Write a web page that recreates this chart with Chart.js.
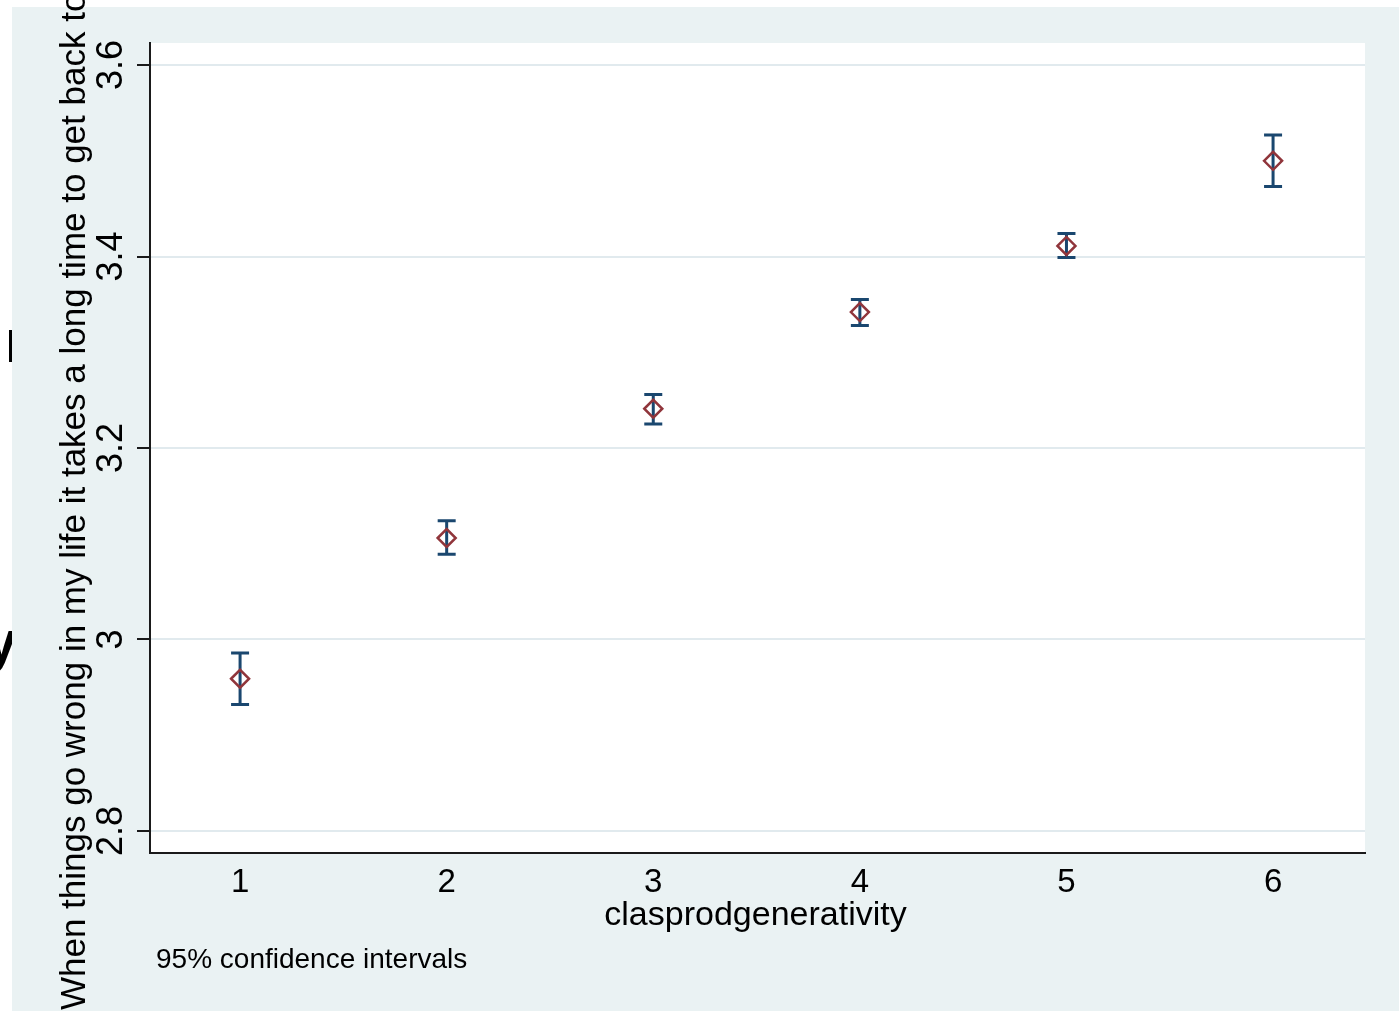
<!DOCTYPE html>
<html>
<head>
<meta charset="utf-8">
<title>clasprodgenerativity</title>
<script src="https://cdn.jsdelivr.net/npm/chart.js@4.4.1/dist/chart.umd.min.js"></script>
<style>
  html, body { margin: 0; padding: 0; background: #ffffff; }
  canvas { display: block; }
</style>
</head>
<body>
<canvas id="chart" width="1399" height="1011"></canvas>
<script>
// Group means with 95% confidence intervals
const categories = [1, 2, 3, 4, 5, 6];
const means = [2.959, 3.106, 3.241, 3.342, 3.411, 3.500];
const lower = [2.932, 3.089, 3.225, 3.328, 3.399, 3.473];
const upper = [2.986, 3.124, 3.256, 3.355, 3.424, 3.527];
const yTickValues = [2.8, 3.0, 3.2, 3.4, 3.6];
const yTickLabels = ['2.8', '3', '3.2', '3.4', '3.6'];
const xTickLabels = ['1', '2', '3', '4', '5', '6'];
const xTitle = 'clasprodgenerativity';
const yTitle = 'When things go wrong in my life it takes a long time to get back to normal';
const note = '95% confidence intervals';

const FONT = '"Liberation Sans", Arial, Helvetica, sans-serif';
const PANEL = '#EAF2F3';
const NAVY = '#1A476F';
const CRANBERRY = '#90353B';

const points = categories.map((c, i) => ({ x: c, y: means[i] }));

// Page frame, outer panel and white plot region
const backdrop = {
  id: 'backdrop',
  beforeDraw(chart) {
    const { ctx, chartArea: a, width, height } = chart;
    ctx.save();
    ctx.fillStyle = '#ffffff';
    ctx.fillRect(0, 0, width, height);
    // stray glyphs of a neighbouring caption at the far left
    ctx.fillStyle = '#000000';
    ctx.font = 'bold 58px ' + FONT;
    ctx.textBaseline = 'alphabetic';
    ctx.textAlign = 'left';
    ctx.fillText('y', -15, 661);
    ctx.fillRect(9, 330, 3, 32);
    ctx.fillStyle = PANEL;
    ctx.fillRect(12, 7, width - 12, height - 7);
    ctx.fillStyle = '#ffffff';
    ctx.fillRect(a.left, a.top, a.right - a.left, a.bottom - a.top);
    ctx.restore();
  }
};

// Confidence interval whiskers with caps
const whiskers = {
  id: 'whiskers',
  beforeDatasetsDraw(chart) {
    const { ctx, scales: { x, y } } = chart;
    ctx.save();
    ctx.strokeStyle = NAVY;
    ctx.lineWidth = 3;
    ctx.lineCap = 'butt';
    categories.forEach((c, i) => {
      const px = x.getPixelForValue(c);
      const pLo = y.getPixelForValue(lower[i]);
      const pHi = y.getPixelForValue(upper[i]);
      const cap = 9;
      ctx.beginPath();
      ctx.moveTo(px, pLo);
      ctx.lineTo(px, pHi);
      ctx.moveTo(px - cap, pLo);
      ctx.lineTo(px + cap, pLo);
      ctx.moveTo(px - cap, pHi);
      ctx.lineTo(px + cap, pHi);
      ctx.stroke();
    });
    ctx.restore();
  }
};

// Tick labels, axis titles and note
const texts = {
  id: 'texts',
  afterDraw(chart) {
    const { ctx, chartArea: a, scales: { x, y } } = chart;
    ctx.save();
    ctx.fillStyle = '#000000';
    ctx.textBaseline = 'alphabetic';

    // vertical axis labels, rotated
    ctx.font = '36px ' + FONT;
    ctx.textAlign = 'center';
    yTickValues.forEach((v, i) => {
      const py = y.getPixelForValue(v);
      ctx.save();
      ctx.translate(122, py);
      ctx.rotate(-Math.PI / 2);
      ctx.fillText(yTickLabels[i], 0, 0);
      ctx.restore();
    });

    // vertical axis title
    ctx.font = '35px ' + FONT;
    ctx.save();
    ctx.translate(85, (a.top + a.bottom) / 2 - 5);
    ctx.rotate(-Math.PI / 2);
    ctx.fillText(yTitle, 0, 0);
    ctx.restore();

    // horizontal axis labels
    ctx.font = '33px ' + FONT;
    categories.forEach((c, i) => {
      ctx.fillText(xTickLabels[i], x.getPixelForValue(c), 892);
    });

    // horizontal axis title
    ctx.font = '34px ' + FONT;
    ctx.fillText(xTitle, (a.left + a.right) / 2 - 2, 925);

    // note
    ctx.font = '28px ' + FONT;
    ctx.textAlign = 'left';
    ctx.fillText(note, 156, 968);
    ctx.restore();
  }
};

new Chart(document.getElementById('chart'), {
  type: 'scatter',
  data: {
    datasets: [{
      data: points,
      pointStyle: 'rectRot',
      pointRadius: 9,
      pointHoverRadius: 9,
      borderWidth: 2.5,
      borderColor: CRANBERRY,
      backgroundColor: 'rgba(0,0,0,0)',
      showLine: false
    }]
  },
  options: {
    responsive: false,
    animation: false,
    devicePixelRatio: 1,
    layout: { padding: { left: 0, top: 43, right: 34, bottom: 0 } },
    plugins: { legend: { display: false }, tooltip: { enabled: false } },
    scales: {
      x: {
        type: 'linear',
        min: 0.564,
        max: 6.445,
        ticks: { display: false },
        grid: { display: false, drawTicks: false },
        border: { display: true, color: '#1a1a1a', width: 2 },
        afterFit(s) { s.height = 158; }
      },
      y: {
        type: 'linear',
        min: 2.777,
        max: 3.623,
        afterBuildTicks(s) { s.ticks = yTickValues.map(v => ({ value: v })); },
        ticks: { display: false },
        grid: {
          color: '#E1EAEE',
          lineWidth: 2,
          drawTicks: true,
          tickLength: 13,
          tickColor: '#1a1a1a',
          tickWidth: 2
        },
        border: { display: true, color: '#1a1a1a', width: 2 },
        afterFit(s) { s.width = 150; }
      }
    }
  },
  plugins: [backdrop, whiskers, texts]
});
</script>
</body>
</html>
